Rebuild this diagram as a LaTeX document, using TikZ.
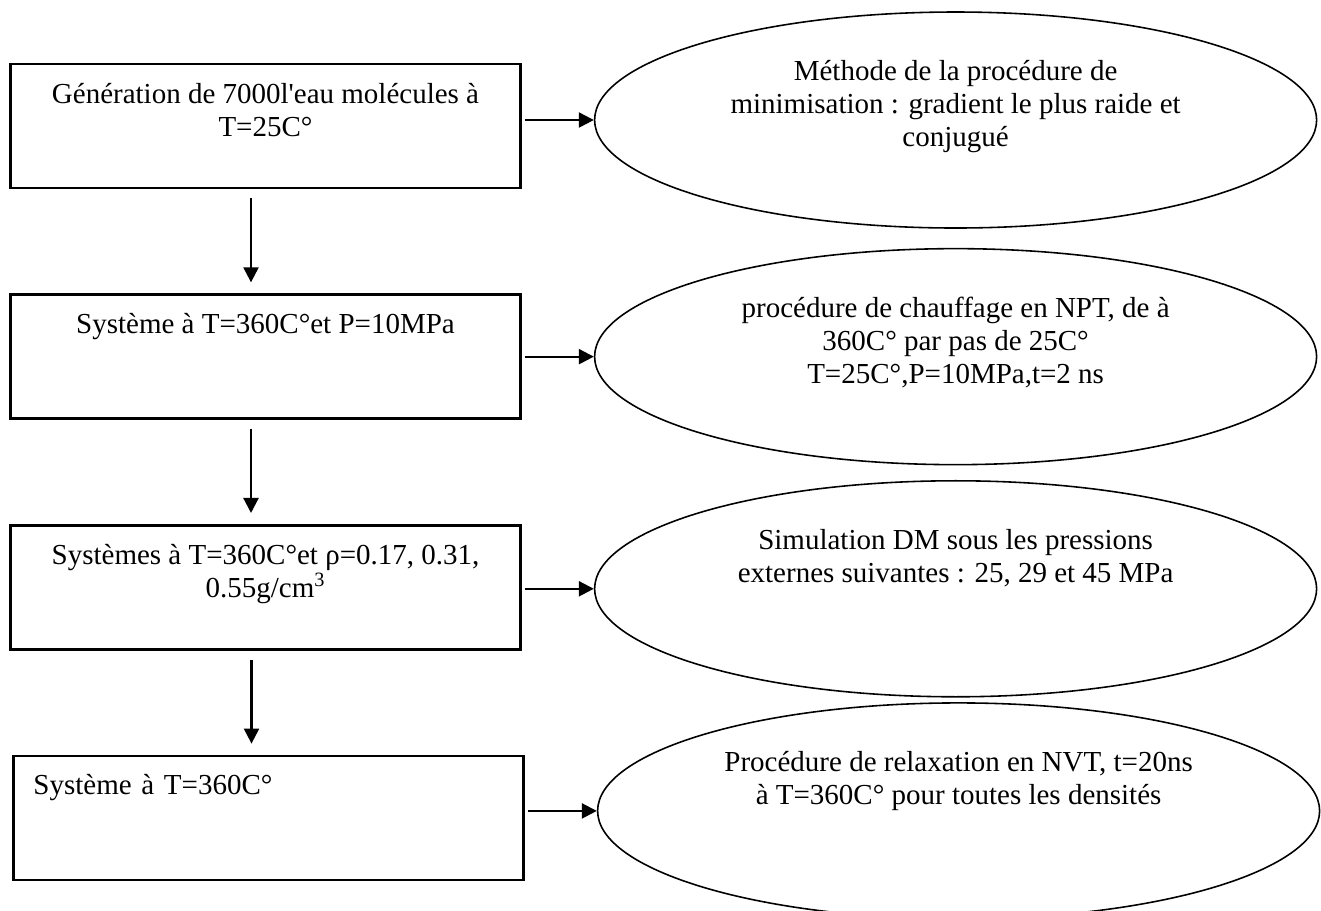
\documentclass[tikz,border=0pt]{standalone}
\usepackage{fontspec}
\setmainfont{Liberation Serif}
\usepackage{tikz}
\usetikzlibrary{arrows.meta,positioning,shapes.geometric}

\begin{document}
\begin{tikzpicture}[
  font=\fontsize{16.5}{18.8}\selectfont,
  node distance=2.08cm and 1.44cm,
  >={Triangle[length=3mm,width=3mm]},
  % step rectangle (left column)
  box/.style={draw=black, line width=1.5pt,
              minimum width=10.2cm, minimum height=2.48cm,
              inner sep=0pt, align=center},
  % procedure ellipse (right column)
  ell/.style={draw=black, line width=0.9pt, shape=ellipse,
              minimum width=14.44cm, minimum height=4.32cm,
              inner sep=0pt, align=center},
  % arrows
  arr/.style={->, draw=black, line width=1.3pt},
  down/.style={arr, shorten <=0.18cm, shorten >=0.22cm},
]
\useasboundingbox (0,0) rectangle (26.42,-18.2);

%% ── Left column (steps) ─────────────────────────────────────────────────
\node[box] (GEN) at (5.31,-2.52)
  {G\'en\'eration de 7000l\textquotesingle eau mol\'ecules \`a\\T=25C°\\\mbox{}};
\node[box] (SYS) [below=of GEN]
  {Syst\`eme \`a T=360C°et P=10MPa\\\mbox{}\\\mbox{}};
\node[box] (RHO) [below=of SYS]
  {Syst\`emes \`a T=360C°et ρ=0.17, 0.31,\\0.55g/cm\textsuperscript{3}\\\mbox{}};
\node[box,text width=9.4cm,align=left] (REL) [below=of RHO, xshift=0.06cm]
  {Syst\`eme \`a T=360C°\\\mbox{}\\\mbox{}};

%% ── Right column (procedures) ───────────────────────────────────────────
\node[ell] (MIN)  [right=of GEN, yshift=0.12cm]
  {M\'ethode de la proc\'edure de\\minimisation : gradient le plus raide et\\conjugu\'e\\\mbox{}};
\node[ell] (HEAT) [right=of SYS]
  {proc\'edure de chauffage en NPT, de \`a\\360C° par pas de 25C°\\T=25C°,P=10MPa,t=2 ns\\\mbox{}};
\node[ell] (SIM)  [right=of RHO, yshift=-0.03cm]
  {Simulation DM sous les pressions\\externes suivantes : 25, 29 et 45 MPa\\\mbox{}\\\mbox{}};
\node[ell] (NVT)  [right=of REL, yshift=0.14cm]
  {Proc\'edure de relaxation en NVT, t=20ns\\\`a T=360C° pour toutes les densit\'es\\\mbox{}\\\mbox{}};

%% ── Main flow arrows ─────────────────────────────────────────────────────
\draw[down] ([xshift=-0.29cm]GEN.south) -- ([xshift=-0.29cm]SYS.north);
\draw[down] ([xshift=-0.29cm]SYS.south) -- ([xshift=-0.29cm]RHO.north);
\draw[down] ([xshift=-0.28cm]RHO.south) -- ([xshift=-0.28cm]RHO.south |- REL.north);

%% ── Step to procedure arrows ─────────────────────────────────────────────
\draw[arr,shorten <=0.06cm] (GEN.east |- MIN.west) -- (MIN.west);
\draw[arr,shorten <=0.06cm] (SYS.east |- HEAT.west) -- (HEAT.west);
\draw[arr,shorten <=0.06cm] (RHO.east |- SIM.west) -- (SIM.west);
\draw[arr,shorten <=0.06cm] (REL.east |- NVT.west) -- (NVT.west);

\end{tikzpicture}
\end{document}
